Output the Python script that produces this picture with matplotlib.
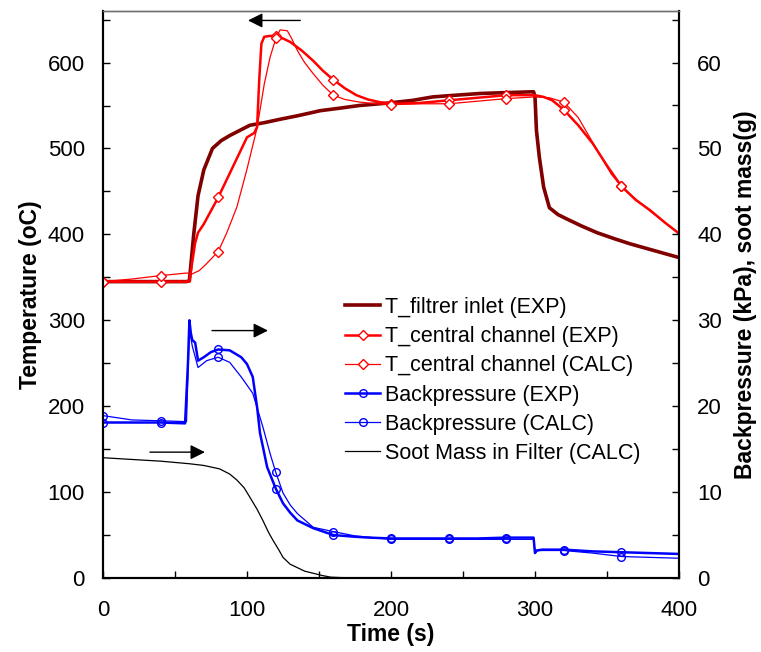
import matplotlib
matplotlib.use('Agg')
import matplotlib.pyplot as plt

plt.rcParams['font.family'] = ['Liberation Sans', 'DejaVu Sans']

# T_filtrer inlet (EXP), degC
t_inlet = [0, 58, 60, 63, 66, 70, 76, 82, 88, 95, 102, 112, 123, 135, 151, 165, 178, 199, 215,
           229, 245, 262, 280, 299, 300, 301, 303, 306, 310, 316, 322, 332, 343, 355, 366, 383, 400]
T_inlet = [345, 345, 346, 400, 445, 475, 500, 509, 515, 521, 527, 530, 534, 538, 544, 547, 550, 553, 556,
           560, 562, 564, 565, 566, 560, 521, 490, 455, 431, 423, 418, 410, 402, 395, 389, 381, 373]

# T_central channel (EXP), degC
t_cexp = [0, 40, 60, 62, 64, 66, 70, 80, 90, 100, 105, 107, 108.5, 110, 112, 116, 120, 125, 130, 138,
          146, 153, 160, 168, 176, 184, 192, 200, 220, 240, 260, 280, 300, 306, 312, 320, 330, 340,
          350, 360, 370, 380, 390, 400]
T_cexp = [345, 345, 345, 368, 390, 402, 412, 443, 478, 513, 518, 525, 580, 622, 630, 631, 631, 628, 624, 614,
          602, 590, 580, 570, 562, 557, 554, 552, 553, 556, 559, 562, 562, 560, 556, 545, 527, 506,
          480, 456, 440, 428, 414, 401]

# T_central channel (CALC), degC
t_ccalc = [0, 20, 40, 58, 62, 67, 72, 80, 86, 93, 100, 107, 112, 116, 120, 123, 128, 131, 135, 140,
           146, 153, 160, 168, 178, 190, 200, 220, 240, 260, 280, 300, 310, 320, 330, 338, 346, 353,
           360, 370, 380, 390, 400]
T_ccalc = [345, 348, 352, 355, 354, 358, 366, 380, 402, 432, 476, 524, 575, 606, 628, 638, 637, 628, 614, 600,
           587, 573, 562, 557, 554, 552, 551, 552, 552, 555, 558, 560, 559, 554, 536, 513, 490, 470,
           456, 441, 427, 414, 401]

# Backpressure (EXP), kPa
t_bpexp = [0, 20, 40, 57, 59, 60, 61, 62, 64, 66, 70, 75, 80, 88, 96, 100, 104, 107, 109, 114, 120,
           125, 130, 135, 146, 160, 175, 185, 200, 220, 240, 260, 280, 299, 300, 301, 305, 320, 340,
           360, 380, 400]
P_bpexp = [18.1, 18.1, 18.1, 18.0, 25.0, 30.0, 28.5, 27.7, 27.4, 25.3, 25.7, 26.3, 26.6, 26.5, 25.7, 24.9,
           23.4, 19.9, 16.9, 12.9, 10.4, 8.7, 7.6, 6.7, 5.8, 5.0, 4.8, 4.7, 4.6, 4.6, 4.6, 4.6, 4.7,
           4.7, 2.9, 3.2, 3.3, 3.3, 3.1, 3.0, 2.9, 2.8]

# Backpressure (CALC), kPa
t_bpcalc = [0, 20, 40, 58, 60, 62, 66, 72, 80, 88, 96, 104, 111, 116, 120, 125, 130, 135, 146, 160,
            175, 200, 220, 240, 260, 280, 299, 300, 302, 320, 340, 360, 380, 400]
P_bpcalc = [18.9, 18.4, 18.3, 18.2, 29.0, 27.0, 24.5, 25.3, 25.7, 25.1, 23.4, 21.5, 17.6, 14.5, 12.3,
            9.9, 8.5, 7.5, 5.9, 5.4, 4.9, 4.5, 4.5, 4.5, 4.5, 4.5, 4.5, 3.0, 3.2, 3.2, 2.9, 2.5, 2.4, 2.3]

# Soot Mass in Filter (CALC), g
t_soot = [0, 20, 40, 60, 70, 81, 88, 93, 98, 102, 107, 111, 115, 118, 122, 125, 130, 135, 140, 146,
          152, 158, 165, 180, 200, 250, 300, 350, 400]
m_soot = [14.0, 13.8, 13.6, 13.3, 13.1, 12.7, 12.1, 11.4, 10.5, 9.4, 8.0, 6.7, 5.3, 4.4, 3.3, 2.4,
          1.6, 1.2, 0.8, 0.55, 0.3, 0.1, 0.05, 0, 0, 0, 0, 0, 0]

labels = ['T_filtrer inlet (EXP)', 'T_central channel (EXP)', 'T_central channel (CALC)',
          'Backpressure (EXP)', 'Backpressure (CALC)', 'Soot Mass in Filter (CALC)']


def every40(ts):
    return [i for i, t in enumerate(ts) if t % 40 == 0 and t < 400]


fig = plt.figure(figsize=(7.61, 6.52), dpi=100)
W, H = 761, 652
ax = fig.add_axes([103 / W, 1 - 578 / H, 576 / W, 567 / H])
ax2 = ax.twinx()

h1, = ax.plot(t_inlet, T_inlet, color='#800000', lw=2.6)
h2, = ax.plot(t_cexp, T_cexp, color='#ff0000', lw=1.8, marker='D', ms=4.8, mfc='white',
              mew=1, markevery=every40(t_cexp))
h3, = ax.plot(t_ccalc, T_ccalc, color='#ff0000', lw=0.9, marker='D', ms=4.8, mfc='white',
              mew=1, markevery=every40(t_ccalc))
h4, = ax2.plot(t_bpexp, P_bpexp, color='#0000ff', lw=1.8, marker='o', ms=5.5, mfc='none',
               mew=1, markevery=every40(t_bpexp))
h5, = ax2.plot(t_bpcalc, P_bpcalc, color='#0000ff', lw=0.9, marker='o', ms=5.5, mfc='none',
               mew=1, markevery=every40(t_bpcalc))
h6, = ax2.plot(t_soot, m_soot, color='black', lw=0.9)

ax.set_xlim(0, 400)
ax.set_ylim(0, 660)
ax2.set_ylim(0, 66)
ax.set_xticks(range(0, 401, 100))
ax.set_xticks(range(50, 400, 100), minor=True)
ax.set_yticks(range(0, 601, 100))
ax.set_yticks(range(50, 660, 100), minor=True)
ax2.set_yticks(range(0, 61, 10))
ax2.set_yticks(range(5, 66, 10), minor=True)

ax.tick_params(which='both', direction='in', length=5, width=1, labelsize=16)
ax.tick_params(axis='y', which='both', pad=13)
ax.tick_params(axis='x', which='both', pad=16, top=False)
ax2.tick_params(which='both', direction='in', length=5, width=1, labelsize=16, pad=13)

for a in (ax, ax2):
    for s in ('left', 'bottom', 'right'):
        a.spines[s].set_linewidth(1.5)
        a.spines[s].set_color('black')
    a.spines['top'].set_linewidth(1)
    a.spines['top'].set_color('#707070')

ax.set_xlabel('Time (s)', fontsize=16.5, fontweight='bold', labelpad=1)
ax.set_ylabel('Temperature (oC)', fontsize=16.5, fontweight='bold', labelpad=4)
ax2.set_ylabel('Backpressure (kPa), soot mass(g)', fontsize=16.5, fontweight='bold', labelpad=9)

arrow = dict(arrowstyle='-|>', color='black', lw=1, mutation_scale=22, shrinkA=0, shrinkB=0)
ax.annotate('', xy=(100.7, 649), xytext=(137, 649), arrowprops=arrow)
ax.annotate('', xy=(114.6, 288), xytext=(75.7, 288), arrowprops=arrow)
ax.annotate('', xy=(70.8, 146.5), xytext=(32.6, 146.5), arrowprops=arrow)

ax2.legend([h1, h2, h3, h4, h5, h6], labels, loc='upper left', frameon=False,
           bbox_to_anchor=(345 / W, 1 - 297 / H), bbox_transform=fig.transFigure,
           fontsize=15.5, handlelength=1.63, handletextpad=0.25, labelspacing=0.38,
           borderpad=0, borderaxespad=0, numpoints=1)

fig.savefig('out.png', dpi=100)
